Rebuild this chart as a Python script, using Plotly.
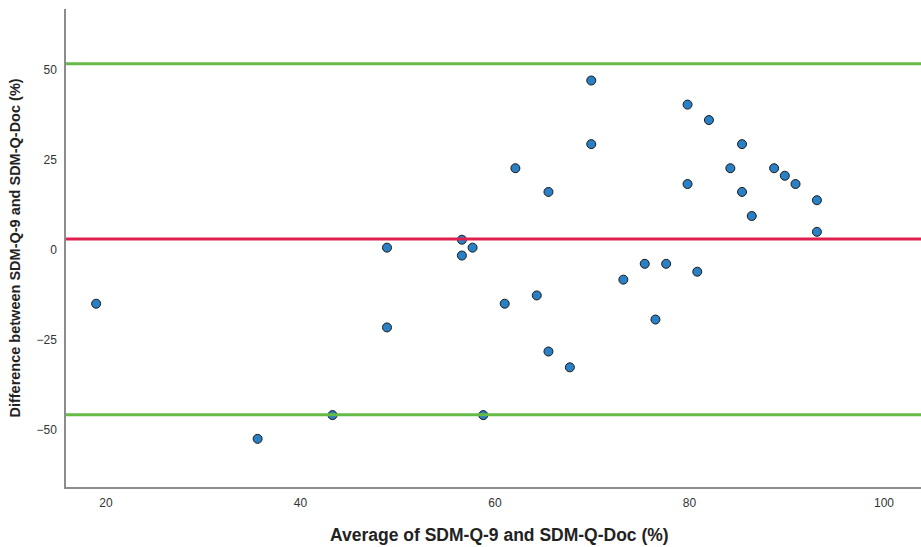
import plotly.graph_objects as go

# Average of SDM-Q-9 and SDM-Q-Doc (%)
avg = [19.0, 35.6, 43.3, 48.9, 48.9, 56.6, 56.6, 57.7, 58.8, 61.0,
       62.1, 64.3, 65.5, 65.5, 67.7, 69.9, 69.9, 73.2, 75.4, 76.5,
       77.6, 79.8, 79.8, 80.8, 82.0, 84.2, 85.4, 85.4, 86.4, 88.7,
       89.8, 90.9, 93.1, 93.1]
# Difference between SDM-Q-9 and SDM-Q-Doc (%)
diff = [-15.0, -52.6, -46.0, 0.6, -21.6, 2.8, -1.6, 0.6, -46.0, -15.0,
        22.7, -12.7, 16.1, -28.3, -32.7, 47.1, 29.4, -8.3, -3.9, -19.4,
        -3.9, 40.4, 18.3, -6.1, 36.1, 22.7, 29.4, 16.1, 9.4, 22.7,
        20.6, 18.3, 13.8, 5.0]

mean_diff = 3.0
upper_loa = 51.8
lower_loa = -45.9

x_ticks = [20, 40, 60, 80, 100]
y_ticks = [-50, -25, 0, 25, 50]

x_title = "Average of SDM-Q-9 and SDM-Q-Doc (%)"
y_title = "Difference between SDM-Q-9 and SDM-Q-Doc (%)"

fig = go.Figure()
fig.add_trace(go.Scatter(
    x=avg, y=diff, mode="markers",
    marker=dict(size=9, color="#2a80c4", line=dict(color="#1a1a1a", width=1)),
    showlegend=False,
))

for val, col in [(upper_loa, "#66bb47"), (lower_loa, "#66bb47"), (mean_diff, "#e0204e")]:
    fig.add_shape(type="line", xref="paper", x0=0, x1=1, yref="y", y0=val, y1=val,
                  line=dict(color=col, width=3), layer="above")

fig.add_annotation(text="<b>" + x_title + "</b>", xref="paper", yref="paper",
                   x=0.5076, y=-0.1004, xanchor="center", yanchor="middle",
                   showarrow=False, font=dict(size=17.5, color="#222"))

fig.update_layout(
    width=921, height=547,
    margin=dict(l=66, r=0, t=9, b=60),
    plot_bgcolor="white", paper_bgcolor="white",
    font=dict(family="Liberation Sans, Arial, sans-serif", color="#222"),
    xaxis=dict(
        range=[15.9, 103.8], tickvals=x_ticks, showgrid=False, zeroline=False,
        showline=True, linecolor="#8c8c8c", linewidth=1.5, ticks="",
        tickfont=dict(size=12, color="#333"), ticklabelstandoff=4,
        automargin=False,
    ),
    yaxis=dict(
        range=[-66, 67], tickvals=y_ticks, showgrid=False, zeroline=False,
        showline=True, linecolor="#8c8c8c", linewidth=1.5, ticks="",
        tickfont=dict(size=12, color="#333"), ticklabelstandoff=5,
        title=dict(text="<b>" + y_title + "</b>",
                   font=dict(size=14.5, color="#222"), standoff=12),
        automargin=False,
    ),
)

fig.write_html("out.html")
